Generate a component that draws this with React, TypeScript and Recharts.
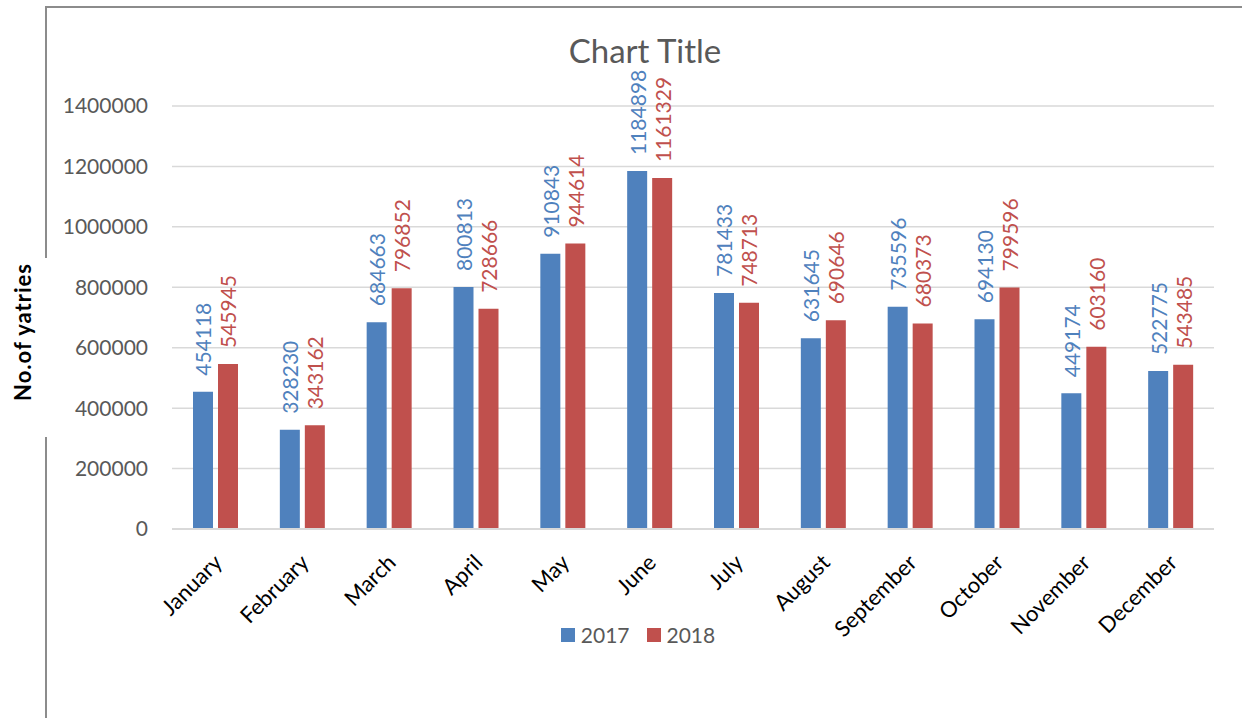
import React from "react";
import { BarChart, Bar, XAxis, YAxis, CartesianGrid, Legend } from "recharts";

const months = ["January", "February", "March", "April", "May", "June", "July", "August", "September", "October", "November", "December"];
const values2017 = [454118, 328230, 684663, 800813, 910843, 1184898, 781433, 631645, 735596, 694130, 449174, 522775];
const values2018 = [545945, 343162, 796852, 728666, 944614, 1161329, 748713, 690646, 680373, 799596, 603160, 543485];
const yTicks = [0, 200000, 400000, 600000, 800000, 1000000, 1200000, 1400000];
const seriesNames = ["2017", "2018"];

const data = months.map((m, i) => ({ month: m, s2017: values2017[i], s2018: values2018[i] }));

const BLUE = "#4F81BD";
const RED = "#C0504D";
const FONT = "Lato, 'Open Sans', sans-serif";

const makeLabel = (color: string) => (props: any) => {
  const { x, y, width, value } = props;
  const cx = Number(x) + Number(width) / 2;
  const cy = Number(y) - 16;
  return (
    <text
      x={cx}
      y={cy}
      transform={`rotate(-90, ${cx}, ${cy})`}
      textAnchor="start"
      dominantBaseline="central"
      fill={color}
      fontSize={21}
      fontFamily={FONT}
    >
      {value}
    </text>
  );
};

const XTick = (props: any) => {
  const { x, y, payload } = props;
  const ax = Number(x) + 8;
  const ay = Number(y) + 33;
  return (
    <text
      x={ax}
      y={ay}
      transform={`rotate(-45, ${ax}, ${ay})`}
      textAnchor="end"
      fill="#000000"
      fontSize={22}
      fontFamily={FONT}
    >
      {payload.value}
    </text>
  );
};

const renderLegend = () => (
  <div style={{ display: "flex", justifyContent: "center", alignItems: "center", fontFamily: FONT, fontSize: 21, color: "#595959" }}>
    {[BLUE, RED].map((c, i) => (
      <div key={i} style={{ display: "flex", alignItems: "center", marginRight: i === 0 ? 17 : 0 }}>
        <span style={{ display: "inline-block", width: 14, height: 14, background: c, marginRight: 6 }} />
        <span>{seriesNames[i]}</span>
      </div>
    ))}
  </div>
);

export default function App() {
  return (
    <div style={{ position: "absolute", left: 0, top: 0, width: 1242, height: 718, background: "#fff", overflow: "hidden" }}>
      <div style={{ position: "absolute", left: 46, top: 6, width: 1196, height: 2, background: "#8c8c8c" }} />
      <div style={{ position: "absolute", left: 45, top: 6, width: 2, height: 252, background: "#8c8c8c" }} />
      <div style={{ position: "absolute", left: 45, top: 437, width: 2, height: 281, background: "#8c8c8c" }} />
      <BarChart
        width={1242}
        height={718}
        data={data}
        margin={{ top: 106, right: 28, bottom: 0, left: 0 }}
        barGap={5}
        barSize={20}
      >
        <CartesianGrid vertical={false} stroke="#d9d9d9" strokeWidth={1.5} />
        <XAxis
          dataKey="month"
          tick={<XTick />}
          tickLine={false}
          tickSize={0}
          axisLine={{ stroke: "#d9d9d9", strokeWidth: 2 }}
          interval={0}
          height={189}
        />
        <YAxis
          domain={[0, 1400000]}
          ticks={yTicks}
          interval={0}
          width={172}
          tickLine={false}
          axisLine={false}
          tickSize={0}
          tickMargin={24}
          tick={{ fill: "#595959", fontSize: 21, fontFamily: FONT }}
        />
        <Legend
          verticalAlign="middle"
          content={renderLegend}
          wrapperStyle={{ position: "absolute", top: 622, left: 0, width: 1276 }}
        />
        <Bar dataKey="s2017" name={seriesNames[0]} fill={BLUE} isAnimationActive={false} label={makeLabel(BLUE)} />
        <Bar dataKey="s2018" name={seriesNames[1]} fill={RED} isAnimationActive={false} label={makeLabel(RED)} />
      </BarChart>
      <div style={{ position: "absolute", left: 0, top: 30, width: 1290, textAlign: "center", fontFamily: FONT, fontSize: 33, color: "#595959" }}>
        Chart Title
      </div>
      <svg style={{ position: "absolute", left: 0, top: 250, width: 44, height: 190 }}>
        <text
          x={22}
          y={82}
          transform="rotate(-90, 22, 82)"
          textAnchor="middle"
          dominantBaseline="central"
          fontSize={22}
          fontWeight="bold"
          fontFamily={FONT}
          fill="#000"
          letterSpacing={1}
        >
          No.of yatries
        </text>
      </svg>
    </div>
  );
}
